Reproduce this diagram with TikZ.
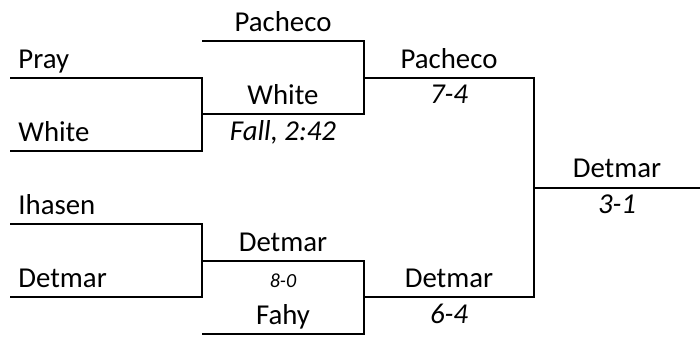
\documentclass[tikz,border=0pt]{standalone}
\usepackage{fontspec}
\setmainfont{Carlito}
\usepackage{tikz}
\usetikzlibrary{positioning}
\tikzstyle{bracket} = [line width=1.2pt, black, line join=miter]
\tikzstyle{player} = [anchor=base, inner sep=0pt, font=\fontsize{14.4}{16}\selectfont]
\tikzstyle{score} = [anchor=base, inner sep=0pt, font=\fontsize{14.4}{16}\selectfont\itshape]
\tikzstyle{smallscore} = [anchor=base, inner sep=0pt, font=\fontsize{10}{12}\selectfont\itshape]

\begin{document}
\begin{tikzpicture}[x=0.5pt, y=-0.5pt]
    \useasboundingbox (0,0) rectangle (700,339);

    % Slots
    \coordinate (r1a) at (10,78);   \coordinate (r1b) at (10,151);
    \coordinate (r1c) at (10,224);  \coordinate (r1d) at (10,297);
    \coordinate (m1a) at (202,78);  \coordinate (m1b) at (202,151);
    \coordinate (m1c) at (202,224); \coordinate (m1d) at (202,297);
    \coordinate (r2a) at (202,41);  \coordinate (r2b) at (202,114);
    \coordinate (r2c) at (202,261); \coordinate (r2d) at (202,334);
    \coordinate (m2a) at (364,41);  \coordinate (m2b) at (364,114);
    \coordinate (m2c) at (364,261); \coordinate (m2d) at (364,334);
    \coordinate (r3a) at (364,78);  \coordinate (r3b) at (364,297);
    \coordinate (m3a) at (534,78);  \coordinate (m3b) at (534,297);
    \coordinate (fin) at (534,188); \coordinate (end) at (700,188);

    % Bracket lines
    \draw[bracket] (r1a) -- (m1a) -- (m1b) -- (r1b);
    \draw[bracket] (r1c) -- (m1c) -- (m1d) -- (r1d);
    \draw[bracket] (r2a) -- (m2a) -- (m2b) -- (r2b);
    \draw[bracket] (r2c) -- (m2c) -- (m2d) -- (r2d);
    \draw[bracket] (r3a) -- (m3a) -- (m3b) -- (r3b);
    \draw[bracket] (fin) -- (end);

    % First round
    \node[player, anchor=base west] (pray) at (18,68) {Pray};
    \node[player, anchor=base west] (white1) at (18,141) {White};
    \node[player, anchor=base west] (ihasen) at (18,214) {Ihasen};
    \node[player, anchor=base west] (detmar1) at (18,287) {Detmar};

    % Second round
    \node[player] (pacheco2) at (283,31) {Pacheco};
    \node[player] (white2) at (283,104) {White};
    \node[score] (fall) at (283,140) {Fall, 2:42};
    \node[player] (detmar2) at (283,251) {Detmar};
    \node[smallscore] (eightnil) at (283,287) {8-0};
    \node[player] (fahy) at (283,324) {Fahy};

    % Semifinals
    \node[player] (pacheco3) at (449,68) {Pacheco};
    \node[score] (sevenfour) at (449,103) {7-4};
    \node[player] (detmar3) at (449,287) {Detmar};
    \node[score] (sixfour) at (449,323) {6-4};

    % Final
    \node[player] (champ) at (617,177) {Detmar};
    \node[score] (threeone) at (617,213) {3-1};
\end{tikzpicture}
\end{document}
